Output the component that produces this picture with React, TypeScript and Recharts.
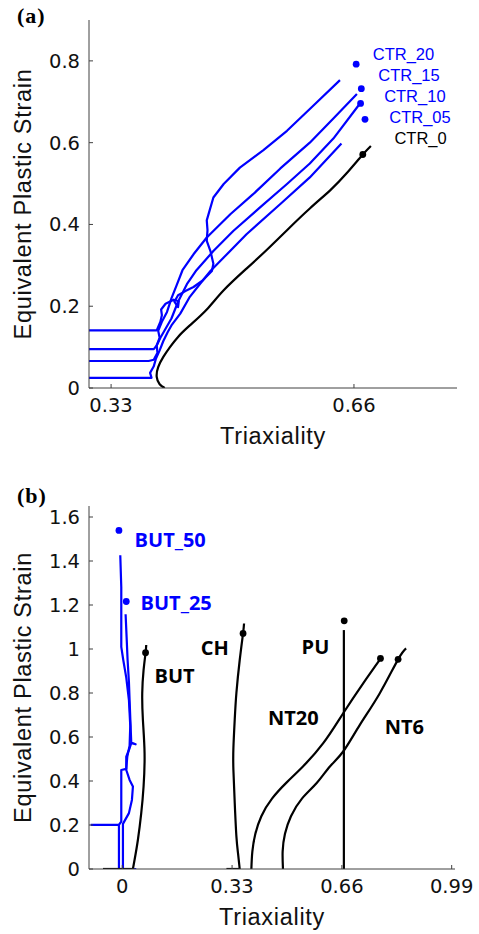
import React from 'react';
import { ComposedChart, Line, Scatter, XAxis, YAxis } from 'recharts';

type Pair = [number, number];

// ---- panel (a): CTR specimens (triaxiality, strain) ----
const ctr20: Pair[] = [
  [0.300, 0.141], [0.392, 0.141], [0.397, 0.162], [0.399, 0.178], [0.398, 0.192], [0.404, 0.206],
  [0.415, 0.216], [0.422, 0.212], [0.421, 0.198], [0.416, 0.211], [0.421, 0.227], [0.431, 0.237],
  [0.442, 0.247], [0.455, 0.264], [0.467, 0.286], [0.469, 0.304], [0.465, 0.335], [0.460, 0.360],
  [0.461, 0.386], [0.460, 0.410], [0.464, 0.435], [0.469, 0.466], [0.483, 0.499], [0.505, 0.539],
  [0.537, 0.582], [0.569, 0.629], [0.605, 0.691], [0.641, 0.753],
];
const ctr15: Pair[] = [
  [0.300, 0.095], [0.388, 0.095], [0.392, 0.104], [0.396, 0.123], [0.394, 0.140], [0.399, 0.162],
  [0.406, 0.186], [0.412, 0.219], [0.419, 0.251], [0.427, 0.288], [0.442, 0.327], [0.460, 0.368],
  [0.492, 0.425], [0.523, 0.474], [0.560, 0.537], [0.600, 0.600], [0.632, 0.659], [0.664, 0.719],
];
const ctr10: Pair[] = [
  [0.300, 0.066], [0.381, 0.066], [0.388, 0.069], [0.393, 0.086], [0.392, 0.104], [0.397, 0.123],
  [0.404, 0.145], [0.412, 0.170], [0.421, 0.211], [0.433, 0.254], [0.446, 0.288], [0.469, 0.335],
  [0.496, 0.384], [0.532, 0.441], [0.569, 0.499], [0.600, 0.549], [0.632, 0.610], [0.670, 0.700],
];
const ctr05: Pair[] = [
  [0.300, 0.025], [0.385, 0.025], [0.383, 0.037], [0.388, 0.053], [0.391, 0.072], [0.396, 0.092],
  [0.401, 0.115], [0.407, 0.137], [0.412, 0.153], [0.424, 0.182], [0.437, 0.223], [0.451, 0.255],
  [0.465, 0.286], [0.483, 0.319], [0.514, 0.376], [0.560, 0.450], [0.600, 0.515], [0.643, 0.598],
];
const ctr0: Pair[] = [
  [0.403, 0], [0.396, 0.009], [0.392, 0.027], [0.394, 0.051], [0.401, 0.076], [0.410, 0.100],
  [0.421, 0.125], [0.437, 0.153], [0.460, 0.192], [0.483, 0.239], [0.514, 0.292], [0.541, 0.337],
  [0.569, 0.386], [0.600, 0.439], [0.628, 0.484], [0.650, 0.525], [0.672, 0.571], [0.683, 0.592],
];
const ctrBlueDots: Pair[] = [[0.663, 0.792], [0.670, 0.732], [0.669, 0.696], [0.675, 0.657]];
const ctrBlackDots: Pair[] = [[0.672, 0.571]];
const ctrNames = ['CTR_20', 'CTR_15', 'CTR_10', 'CTR_05', 'CTR_0'];
const ctrNameAt: Pair[] = [[0.6855, 0.802], [0.693, 0.751], [0.701, 0.700], [0.708, 0.649], [0.715, 0.596]];

const aXTicks = [0.33, 0.66];
const aYTicks = [0, 0.2, 0.4, 0.6, 0.8];

// ---- panel (b): BUT / CH / PU / NT specimens ----
const but50: Pair[] = [
  [-0.095, 0.201], [-0.010, 0.201], [-0.010, 0], [-0.010, 0.201], [-0.003, 0.215], [-0.003, 0.450],
  [0.012, 0.455], [0.015, 0.510], [0.022, 0.560], [0.024, 0.650], [0.020, 0.768], [0.012, 0.870],
  [0.003, 0.950], [-0.003, 1.010], [-0.003, 1.131], [-0.003, 1.282], [-0.006, 1.426],
];
const but25: Pair[] = [
  [0.042, 0], [0.002, 0], [0.002, 0.205], [0.020, 0.254], [0.029, 0.314], [0.032, 0.375],
  [0.022, 0.405], [0.012, 0.450], [0.012, 0.511], [0.022, 0.549], [0.027, 0.572], [0.040, 0.567],
  [0.027, 0.575], [0.025, 0.650], [0.022, 0.768], [0.020, 0.850], [0.016, 0.950], [0.013, 1.055],
  [0.010, 1.158],
];
const butStub: Pair[] = [[-0.058, 0], [0.032, 0]];
const butCurve: Pair[] = [
  [0.032, 0], [0.037, 0.042], [0.047, 0.133], [0.057, 0.254], [0.064, 0.375],
  [0.067, 0.526], [0.062, 0.677], [0.060, 0.799], [0.064, 0.904], [0.070, 0.983], [0.072, 1.018],
];
const chStub: Pair[] = [[0.313, 0], [0.353, 0]];
const chCurve: Pair[] = [
  [0.353, 0], [0.348, 0.070], [0.343, 0.148], [0.338, 0.300], [0.334, 0.450],
  [0.334, 0.550], [0.338, 0.680], [0.343, 0.800], [0.353, 0.950], [0.363, 1.071], [0.366, 1.116],
];
const nt20: Pair[] = [
  [0.388, 0], [0.391, 0.080], [0.400, 0.160], [0.418, 0.240], [0.450, 0.320], [0.495, 0.395],
  [0.543, 0.466], [0.604, 0.572], [0.664, 0.708], [0.724, 0.844], [0.779, 0.962],
];
const nt6: Pair[] = [
  [0.483, 0], [0.482, 0.080], [0.489, 0.160], [0.507, 0.240], [0.540, 0.320], [0.585, 0.392],
  [0.624, 0.466], [0.664, 0.534], [0.714, 0.655], [0.774, 0.799], [0.829, 0.953], [0.853, 1.003],
];
const puCurve: Pair[] = [[0.666, 0], [0.666, 1.086]];
const bBlueDots: Pair[] = [[-0.010, 1.539], [0.012, 1.216]];
const bBlackDots: Pair[] = [[0.070, 0.983], [0.363, 1.071], [0.667, 1.128], [0.776, 0.957], [0.829, 0.953]];
const bNames = ['BUT_50', 'BUT_25', 'BUT', 'CH', 'PU', 'NT20', 'NT6'];
const bNameAt: Pair[] = [[0.037, 1.462], [0.055, 1.176], [0.097, 0.847], [0.236, 0.972], [0.539, 0.977], [0.438, 0.655], [0.789, 0.614]];

const bXTicks = [0, 0.33, 0.66, 0.99];
const bYTicks = [0, 0.2, 0.4, 0.6, 0.8, 1, 1.2, 1.4, 1.6];

const BLUE = '#0000ff';
const BLACK = '#000000';
const AXIS = '#404040';
const SANS = '"Liberation Sans", Arial, sans-serif';
const TICKFONT = '"DejaVu Sans", sans-serif';
const BOLDTAG = '"Open Sans", "Noto Sans", sans-serif';

const toPts = (p: Pair[]) => p.map(([x, y]) => ({ x, y }));

type Curve = { data: Pair[]; color: string; smooth?: boolean };
type Tag = { x: number; y: number; text: string; color: string };

interface PanelProps {
  curves: Curve[];
  blueDots: Pair[];
  blackDots: Pair[];
  tags: Tag[];
  tagSize: number;
  tagWeight: number;
  tagFont: string;
  xDomain: [number, number];
  yDomain: [number, number];
  xTicks: number[];
  yTicks: number[];
  margin: { top: number; right: number; bottom: number; left: number };
}

const tickStyle = { fontSize: 19.5, fontFamily: TICKFONT, fill: '#111' };
const titleStyle = { fontSize: 23.5, fontFamily: SANS, fill: '#111', letterSpacing: 0.7 };

function Panel(props: PanelProps) {
  const { curves, blueDots, blackDots, tags, tagSize, tagWeight, tagFont, xDomain, yDomain, xTicks, yTicks, margin } = props;
  const dot = (color: string) => (p: any) => <circle cx={p.cx} cy={p.cy} r={3.4} fill={color} />;
  const tagShape = (p: any) => (
    <text x={p.cx} y={p.cy} fill={p.payload.color} fontSize={tagSize} fontWeight={tagWeight} fontFamily={tagFont}>
      {p.payload.text}
    </text>
  );
  return (
    <ComposedChart width={479} height={467} margin={margin}>
      <XAxis
        dataKey="x" type="number" domain={xDomain} ticks={xTicks} allowDataOverflow interval={0}
        height={60} tickSize={-4} tickMargin={14} tick={tickStyle}
        axisLine={{ stroke: AXIS }} tickLine={{ stroke: AXIS }}
        label={{ value: 'Triaxiality', position: 'insideBottom', offset: 4, style: titleStyle }}
      />
      <XAxis
        xAxisId="top" orientation="top" dataKey="x" type="number" domain={xDomain} ticks={xTicks}
        allowDataOverflow interval={0} height={0} tickSize={-4} tick={false}
        axisLine={{ stroke: AXIS }} tickLine={{ stroke: AXIS }}
      />
      <YAxis
        dataKey="y" type="number" domain={yDomain} ticks={yTicks} allowDataOverflow interval={0}
        width={66} tickSize={-4} tickMargin={13} tick={tickStyle}
        axisLine={{ stroke: AXIS }} tickLine={{ stroke: AXIS }}
        label={{ value: 'Equivalent Plastic Strain', angle: -90, position: 'insideLeft', offset: 0, style: { ...titleStyle, textAnchor: 'middle' } }}
      />
      <YAxis
        yAxisId="r" orientation="right" dataKey="y" type="number" domain={yDomain} ticks={yTicks}
        allowDataOverflow interval={0} width={0} tickSize={-4} tick={false}
        axisLine={{ stroke: AXIS }} tickLine={{ stroke: AXIS }}
      />
      {curves.map((c, i) => (
        <Line
          key={i} data={toPts(c.data)} dataKey="y" type={c.smooth ? 'natural' : 'linear'}
          stroke={c.color} strokeWidth={2.2} strokeLinejoin="round"
          dot={false} activeDot={false} isAnimationActive={false}
        />
      ))}
      <Scatter data={toPts(blueDots)} shape={dot(BLUE)} isAnimationActive={false} />
      <Scatter data={toPts(blackDots)} shape={dot(BLACK)} isAnimationActive={false} />
      <Scatter data={tags} shape={tagShape} isAnimationActive={false} />
    </ComposedChart>
  );
}

const panelLabel: React.CSSProperties = {
  position: 'absolute', left: 17, fontFamily: '"Liberation Serif", "Times New Roman", serif',
  fontWeight: 'bold', fontSize: 22, lineHeight: '22px', letterSpacing: 1, color: '#000',
};

export default function App() {
  const aCurves: Curve[] = [
    { data: ctr20, color: BLUE }, { data: ctr15, color: BLUE }, { data: ctr10, color: BLUE },
    { data: ctr05, color: BLUE }, { data: ctr0, color: BLACK, smooth: true },
  ];
  const aTags: Tag[] = ctrNames.map((t, i) => ({
    x: ctrNameAt[i][0], y: ctrNameAt[i][1], text: t, color: t === 'CTR_0' ? BLACK : BLUE,
  }));
  const bCurves: Curve[] = [
    { data: but50, color: BLUE }, { data: but25, color: BLUE },
    { data: butStub, color: BLACK }, { data: butCurve, color: BLACK, smooth: true },
    { data: chStub, color: BLACK }, { data: chCurve, color: BLACK, smooth: true },
    { data: nt20, color: BLACK, smooth: true }, { data: nt6, color: BLACK, smooth: true },
    { data: puCurve, color: BLACK },
  ];
  const bTags: Tag[] = bNames.map((t, i) => ({
    x: bNameAt[i][0], y: bNameAt[i][1], text: t, color: t.startsWith('BUT_') ? BLUE : BLACK,
  }));

  return (
    <div style={{ position: 'absolute', left: 0, top: 0, width: 479, height: 934, background: '#fff', overflow: 'hidden' }}>
      <div style={{ position: 'absolute', left: 0, top: 0 }}>
        <Panel
          curves={aCurves} blueDots={ctrBlueDots} blackDots={ctrBlackDots} tags={aTags}
          tagSize={16.5} tagWeight={400} tagFont={SANS} xDomain={[0.3, 0.8]} yDomain={[0, 0.9]}
          xTicks={aXTicks} yTicks={aYTicks} margin={{ top: 20, right: 22, bottom: 19, left: 23 }}
        />
      </div>
      <div style={{ position: 'absolute', left: 0, top: 467 }}>
        <Panel
          curves={bCurves} blueDots={bBlueDots} blackDots={bBlackDots} tags={bTags}
          tagSize={20} tagWeight={700} tagFont={BOLDTAG} xDomain={[-0.1, 1.0]} yDomain={[0, 1.65]}
          xTicks={bXTicks} yTicks={bYTicks} margin={{ top: 39, right: 24, bottom: 5, left: 23 }}
        />
      </div>
      <div style={{ ...panelLabel, top: 4.6 }}>(a)</div>
      <div style={{ ...panelLabel, top: 484.6 }}>(b)</div>
    </div>
  );
}
